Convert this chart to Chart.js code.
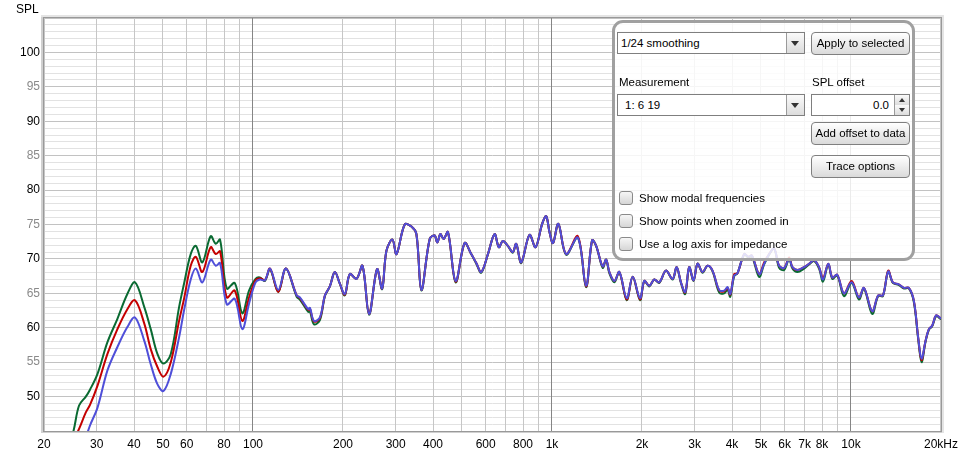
<!DOCTYPE html>
<html>
<head>
<meta charset="utf-8">
<script src="https://cdn.jsdelivr.net/npm/chart.js@4.4.1/dist/chart.umd.min.js"></script>
<style>
  body { margin: 0; background: #fff; font-family: "Liberation Sans", Arial, sans-serif; font-size: 11.5px; color: #000; }
  #wrap { position: relative; width: 964px; height: 454px; }
  canvas { position: absolute; left: 0; top: 0; }
  .abs { position: absolute; box-sizing: border-box; }
  #yTitle { left: 16px; top: 2px; font-size: 12px; }
  #panel { left: 612px; top: 20px; width: 303px; height: 241px; border: 3px solid #a0a0a0; border-radius: 11px; background: rgba(255,255,255,0.84); }
  .combo { height: 22px; border: 1px solid #7f7f7f; background: #fff; line-height: 20px; padding-left: 3px; }
  .combo .arrow { position: absolute; right: 0; top: 0; width: 17px; height: 20px; border-left: 1px solid #9a9a9a; background: linear-gradient(#fafafa, #dcdcdc); }
  .combo .arrow::after { content: ""; position: absolute; left: 4px; top: 8px; border-left: 4px solid transparent; border-right: 4px solid transparent; border-top: 5px solid #333; }
  .btn { height: 23px; border: 1px solid #7f7f7f; border-radius: 4px; background: linear-gradient(#ffffff, #dadada); text-align: center; line-height: 21px; }
  .lbl { line-height: 14px; }
  .chk { width: 14px; height: 14px; border: 1px solid #8a8a8a; border-radius: 3px; background: linear-gradient(#f6f6f6, #d6d6d6); }
  .spin { height: 22px; border: 1px solid #7f7f7f; background: #fff; line-height: 20px; text-align: right; padding-right: 20px; }
  .spin .up, .spin .dn { position: absolute; right: 0; width: 14px; height: 10px; border-left: 1px solid #9a9a9a; background: linear-gradient(#fafafa, #dcdcdc); }
  .spin .up { top: 0; border-bottom: 1px solid #b0b0b0; }
  .spin .dn { bottom: 0; }
  .spin .up::after, .spin .dn::after { content: ""; position: absolute; left: 4px; border-left: 3px solid transparent; border-right: 3px solid transparent; }
  .spin .up::after { top: 3px; border-bottom: 4px solid #333; }
  .spin .dn::after { top: 3px; border-top: 4px solid #333; }
</style>
</head>
<body>
<div id="wrap">
  <canvas id="chart" width="964" height="454"></canvas>
  <div id="yTitle" class="abs">SPL</div>

  <div id="panel" class="abs"></div>
  <div class="abs combo" style="left:617px; top:32px; width:188px;">1/24 smoothing<span class="arrow"></span></div>
  <div class="abs btn" style="left:811px; top:32px; width:99px;">Apply to selected</div>
  <div class="abs lbl" style="left:619px; top:75px;">Measurement</div>
  <div class="abs lbl" style="left:812px; top:75px;">SPL offset</div>
  <div class="abs combo" style="left:617px; top:94px; width:188px; padding-left:7px;">1: 6 19<span class="arrow"></span></div>
  <div class="abs spin" style="left:811px; top:94px; width:99px;">0.0<span class="up"></span><span class="dn"></span></div>
  <div class="abs btn" style="left:811px; top:122px; width:99px;">Add offset to data</div>
  <div class="abs btn" style="left:811px; top:155px; width:99px;">Trace options</div>
  <div class="abs chk" style="left:619px; top:191px;"></div>
  <div class="abs lbl" style="left:639px; top:191px;">Show modal frequencies</div>
  <div class="abs chk" style="left:619px; top:214px;"></div>
  <div class="abs lbl" style="left:639px; top:214px;">Show points when zoomed in</div>
  <div class="abs chk" style="left:619px; top:237px;"></div>
  <div class="abs lbl" style="left:639px; top:237px;">Use a log axis for impedance</div>
</div>

<script>
// low end, where the three traces separate
const lowFreq = [24, 25.1, 26.2, 27.6, 28.5, 30.2, 32.6, 35.2, 38, 40.3, 43.3, 45.5, 47.9, 50.2, 53.1,
  56.6, 58.8, 61.9, 64.4, 67.7, 72.2, 75.1, 77.6, 81.7, 86.9, 92.1, 97, 102, 105.5, 109.6];
const greenLow = [42.5, 45.0, 48.7, 50.0, 51.0, 53.3, 57.9, 61.3, 64.9, 66.6, 63.0, 59.8, 56.2, 54.8, 56.2,
  63.0, 66.4, 70.7, 71.9, 69.5, 73.3, 72.2, 72.8, 65.7, 66.5, 62.1, 65.4, 67.1, 67.3, 66.8];
const redLow = [39.5, 43.5, 45.3, 47.7, 48.8, 51.6, 56.2, 59.8, 62.7, 64.0, 60.6, 56.9, 54.3, 52.9, 55.0,
  61.0, 64.2, 69.0, 70.3, 68.1, 71.7, 70.7, 71.1, 64.4, 65.4, 61.0, 64.4, 66.9, 67.2, 66.9];
const blueLow = [36.0, 38.5, 41.0, 44.0, 45.8, 48.4, 53.8, 57.2, 60.1, 61.5, 58.1, 54.7, 51.8, 50.8, 53.3,
  58.6, 62.5, 67.0, 68.6, 66.6, 69.9, 69.0, 69.4, 63.4, 64.2, 59.8, 63.5, 66.6, 67.0, 66.9];

// above ~110 Hz the traces almost coincide
const highFreq = [114, 121.5, 128.9, 140, 143.5, 153, 155, 159.9, 167.4, 174,
  180.7, 187.8, 195.2, 202.8, 210.8, 222, 232.4, 244.5, 260, 270.3,
  279.5, 292.7, 302, 321.8, 338.8, 352, 365.8, 390, 405, 413.6,
  423.3, 434.2, 448.8, 476.3, 510.4, 537, 558.3, 580, 610.7, 642.7,
  664.3, 685, 711.8, 739.6, 759.3, 788.9, 841, 881, 927, 956.3,
  981, 1008, 1050, 1115, 1220, 1300, 1362, 1405, 1478, 1517,
  1556, 1617, 1680, 1778, 1862, 1970, 2036, 2116, 2198, 2285,
  2405, 2532, 2612, 2700, 2790, 2877, 2975, 3068, 3188, 3312,
  3443, 3625, 3767, 3865, 3945, 4068, 4170, 4393, 4540, 4661,
  4931, 5123, 5324, 5534, 5752, 5977, 6212, 6371, 6622, 6966,
  7240, 7524, 7820, 8063, 8395, 8660, 8996, 9475, 10050, 10633,
  11050, 11777, 12332, 12789, 13321, 13804, 14454, 15028, 15618, 16231,
  16776, 17219, 17760, 18217, 18685, 19270, 19935, 20500];
const blueHigh = [68.6, 65.5, 68.6, 64.7, 64.4, 62.7, 62.9, 61.0, 61.5, 64.7,
  66.0, 68.1, 66.4, 64.9, 67.8, 67.1, 69.0, 62.0, 68.5, 65.7,
  71.2, 72.8, 70.7, 75.0, 74.7, 73.6, 65.5, 72.9, 73.4, 72.4,
  73.6, 72.9, 73.9, 66.8, 72.3, 70.7, 69.4, 68.1, 70.7, 73.6,
  71.7, 72.6, 71.9, 71.0, 72.2, 69.5, 73.5, 71.7, 75.1, 76.2,
  73.9, 72.3, 75.1, 70.7, 73.1, 66.1, 72.7, 71.9, 68.9, 69.9,
  68.1, 66.8, 68.1, 64.3, 67.4, 64.3, 66.8, 66.1, 67.0, 66.6,
  68.3, 67.1, 68.8, 66.6, 65.2, 68.8, 66.9, 69.3, 68.1, 69.0,
  68.3, 65.5, 65.4, 65.9, 64.9, 67.6, 67.9, 70.7, 70.3, 70.5,
  67.8, 69.3, 70.7, 71.5, 69.0, 68.7, 70.0, 68.8, 68.4, 68.8,
  69.3, 69.8, 68.8, 67.0, 69.3, 67.3, 67.7, 65.0, 66.6, 64.4,
  65.8, 62.4, 64.7, 64.7, 68.2, 66.6, 66.3, 65.8, 65.8, 63.9,
  58.6, 55.5, 58.1, 59.8, 60.3, 61.8, 61.4, 61.3];
const redHigh = [68.6, 65.2, 68.6, 64.7, 64.3, 62.6, 62.8, 60.9, 61.4, 64.7,
  66.0, 68.1, 66.4, 64.8, 67.8, 67.1, 69.0, 62.0, 68.5, 65.7,
  71.2, 72.8, 70.7, 75.0, 74.7, 73.6, 65.5, 72.9, 73.4, 72.4,
  73.6, 72.9, 73.9, 66.7, 72.3, 70.7, 69.4, 68.1, 70.7, 73.6,
  71.7, 72.6, 71.9, 71.0, 72.2, 69.5, 73.5, 71.7, 75.1, 76.2,
  73.9, 72.3, 75.1, 70.7, 73.3, 66.0, 72.7, 71.9, 68.9, 69.9,
  68.1, 66.8, 68.1, 64.1, 67.4, 64.1, 66.8, 66.1, 67.0, 66.6,
  68.3, 67.1, 68.8, 66.6, 65.1, 68.8, 66.9, 69.3, 68.1, 69.0,
  68.3, 65.4, 65.3, 65.8, 64.8, 67.8, 67.9, 70.7, 70.3, 70.5,
  67.8, 69.5, 70.7, 71.5, 69.0, 68.7, 70.2, 68.8, 68.4, 68.8,
  69.3, 69.8, 68.8, 67.2, 69.3, 67.3, 67.7, 65.0, 66.8, 64.4,
  65.8, 62.4, 64.7, 64.7, 68.3, 66.6, 66.3, 65.8, 65.8, 63.9,
  58.6, 55.3, 58.1, 59.8, 60.3, 61.8, 61.4, 61.3];
const greenHigh = [68.5, 65.2, 68.6, 64.5, 64.1, 62.3, 62.4, 60.5, 61.1, 64.6,
  66.0, 68.1, 66.4, 64.7, 67.8, 67.1, 69.0, 61.9, 68.5, 65.6,
  71.2, 72.8, 70.7, 75.0, 74.7, 73.6, 65.4, 72.9, 73.4, 72.4,
  73.6, 72.9, 73.9, 66.6, 72.3, 70.7, 69.3, 68.0, 70.7, 73.6,
  71.7, 72.6, 71.9, 70.9, 72.2, 69.4, 73.5, 71.7, 75.1, 76.2,
  73.9, 72.3, 75.1, 70.6, 73.1, 65.9, 72.7, 71.9, 68.7, 69.9,
  67.9, 66.6, 68.1, 64.0, 67.4, 64.0, 66.8, 66.0, 67.0, 66.5,
  68.3, 67.0, 68.8, 66.5, 64.9, 68.8, 66.8, 69.3, 68.0, 69.0,
  68.2, 65.1, 65.0, 65.5, 64.5, 67.5, 67.9, 70.6, 70.2, 70.4,
  67.4, 69.2, 70.6, 71.5, 68.7, 68.4, 70.0, 68.6, 68.1, 68.6,
  69.2, 69.7, 68.6, 66.7, 69.2, 67.1, 67.6, 64.6, 66.5, 64.1,
  65.7, 62.0, 64.6, 64.6, 68.2, 66.5, 66.2, 65.7, 65.7, 63.7,
  58.4, 55.0, 58.0, 59.7, 60.2, 61.7, 61.3, 61.2];

// axis ticks
const gridFreqs = [20, 30, 40, 50, 60, 70, 80, 90, 100, 200, 300, 400, 500, 600, 700, 800, 900,
  1000, 2000, 3000, 4000, 5000, 6000, 7000, 8000, 9000, 10000, 20000];
const xLabelFreqs = [20, 30, 40, 50, 60, 80, 100, 200, 300, 400, 600, 800, 1000,
  2000, 3000, 4000, 5000, 6000, 7000, 8000, 10000, 20000];
const xLabelTexts = ['20', '30', '40', '50', '60', '80', '100', '200', '300', '400', '600', '800', '1k',
  '2k', '3k', '4k', '5k', '6k', '7k', '8k', '10k', '20kHz'];
const yLabelValues = [50, 55, 60, 65, 70, 75, 80, 85, 90, 95, 100];

function points(fLow, vLow, fHigh, vHigh) {
  return fLow.concat(fHigh).map((f, i) => ({ x: f, y: vLow.concat(vHigh)[i] }));
}

function trace(color, values) {
  return {
    data: values, borderColor: color, borderWidth: 2, pointRadius: 0,
    tension: 0.35, fill: false, clip: 0
  };
}

const framePlugin = {
  id: 'frame',
  afterDraw(chart) {
    const { ctx, chartArea: a } = chart;
    ctx.save();
    ctx.fillStyle = '#d0d0d0';
    ctx.fillRect(a.left - 3, a.top - 1, 3, a.bottom - a.top + 3);
    ctx.fillRect(a.left - 3, a.bottom, a.right - a.left + 5, 2);
    ctx.fillStyle = '#e4e4e4';
    ctx.fillRect(a.right + 1, a.top - 1, 2, a.bottom - a.top + 3);
    ctx.fillRect(a.left - 3, a.top - 3, a.right - a.left + 6, 2);
    ctx.strokeStyle = '#999';
    ctx.lineWidth = 1;
    ctx.strokeRect(a.left - 0.5, a.top - 0.5, a.right - a.left + 1, a.bottom - a.top + 1);
    ctx.restore();
  }
};

const axisFont = { family: '"Liberation Sans", Arial, sans-serif', size: 12 };

// the first dataset is painted last, so blue goes first to end up on top
new Chart(document.getElementById('chart'), {
  type: 'line',
  data: {
    datasets: [
      trace('#4f4fd9', points(lowFreq, blueLow, highFreq, blueHigh)),
      trace('#c40000', points(lowFreq, redLow, highFreq, redHigh)),
      trace('#0a6a32', points(lowFreq, greenLow, highFreq, greenHigh))
    ]
  },
  options: {
    responsive: false,
    animation: false,
    layout: { padding: { top: 18, right: 21, left: 0, bottom: 0 } },
    plugins: { legend: { display: false }, tooltip: { enabled: false } },
    scales: {
      x: {
        type: 'logarithmic', min: 20, max: 20000,
        afterBuildTicks: axis => { axis.ticks = gridFreqs.map(v => ({ value: v })); },
        afterFit: axis => { axis.height = 23; },
        ticks: {
          autoSkip: false, maxRotation: 0, padding: 6, color: '#000', font: axisFont,
          callback: v => { const i = xLabelFreqs.indexOf(v); return i < 0 ? '' : xLabelTexts[i]; }
        },
        grid: {
          drawTicks: false, lineWidth: 1, z: -0.5,
          color: c => [100, 1000, 10000].includes(c.tick.value) ? '#858585' : '#c6c6c6'
        },
        border: { display: false }
      },
      y: {
        min: 45, max: 105,
        afterFit: axis => { axis.width = 44; },
        ticks: {
          stepSize: 1, autoSkip: false, padding: 4, font: axisFont,
          color: c => c.tick.value % 10 === 0 ? '#000' : '#8a8a8a',
          callback: v => yLabelValues.includes(v) ? String(v) : ''
        },
        grid: {
          drawTicks: false, lineWidth: 1, z: -1,
          color: c => c.tick.value % 5 === 0 ? '#c2c2c2' : '#e2e2e2'
        },
        border: { display: false }
      }
    }
  },
  plugins: [framePlugin]
});
</script>
</body>
</html>
